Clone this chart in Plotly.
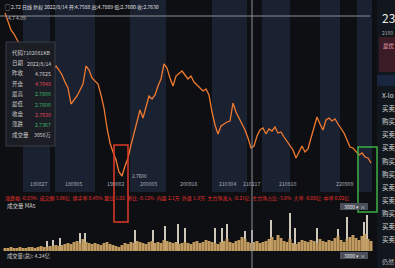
import plotly.graph_objects as go

W, H = 395, 268
FONT = "Noto Sans CJK SC"

# ---------------- data ----------------
price = [18.7, 17.8, 17.0, 16.6, 16.0, 15.5, 15.0, 14.4, 14.0, 13.4, 13.0, 12.6, 12.3, 12.1, 12.4,
         12.8, 13.0, 13.4, 13.0, 12.5, 11.8, 11.2, 9.6, 10.0, 10.4, 11.0, 11.6, 13.4, 13.0, 12.2,
         11.9, 11.6, 10.5, 9.2, 7.2, 5.7, 4.8, 4.0, 2.8, 2.4, 3.4, 4.2, 5.5, 6.7, 7.8,
         9.0, 8.2, 9.2, 10.4, 10.1, 10.5, 11.4, 12.1, 13.6, 13.2, 12.2, 11.4, 12.4, 12.7, 12.9,
         12.5, 12.1, 12.4, 11.8, 11.5, 11.2, 10.9, 11.1, 10.5, 8.8, 7.5, 6.6, 7.4, 7.6, 7.8,
         7.9, 9.7, 8.8, 8.2, 7.6, 7.0, 6.2, 5.2, 5.4, 6.4, 7.0, 7.2, 6.6, 7.1, 6.9,
         7.3, 6.7, 6.8, 6.3, 5.9, 5.4, 5.0, 4.2, 4.8, 5.4, 4.8, 5.1, 6.2, 7.2, 8.3,
         7.6, 7.0, 8.0, 8.2, 7.9, 8.1, 7.6, 7.2, 6.7, 6.0, 5.3, 5.2, 4.8, 4.5, 4.7,
         4.3, 4.2, 3.7]
idx = list(range(len(price)))

volume = [3, 3, 4, 3, 3, 4, 3, 3, 4, 4, 3, 4, 5, 4, 4, 5, 5, 6, 5,
          6, 7, 8, 7, 9, 10, 8, 12, 9, 8, 7, 8, 7, 6,
          8, 9, 7, 6, 5, 4, 6, 8,
          7, 9, 8, 10, 9, 8, 7, 9, 10, 8, 9, 8, 11, 10, 9, 8, 9, 7, 8, 9,
          8, 7, 9, 10, 8, 9, 11, 10, 9, 8, 7, 9, 10, 12, 9, 8, 10, 11, 14, 12, 9, 8, 9, 10, 8,
          9, 10, 12, 14, 11, 16, 13, 10, 9, 12, 8, 7, 9, 11, 10,
          9, 11, 10, 8, 12, 10, 9, 11, 10, 13, 15, 11, 9, 12, 14, 16, 13, 11, 15, 17, 12, 10]

spike_idx = [14, 16, 18.3, 25, 26.7, 43.3, 49.3, 53.3, 57.7, 60, 70, 72.3, 74, 80, 82.3,
             88.7, 95, 96.7, 104, 111, 114, 119.7, 120.7]
spike_vol = [10, 11, 13, 18, 18, 21, 21, 25, 27, 23, 23, 23, 27, 20, 21,
             31, 38, 23, 23, 22, 34, 29, 36]

tick_pos = [11, 22.7, 36.7, 47.7, 61, 74.3, 82.3, 94.3, 113.3]
tick_text = ["180827", "180905", "190002", "200005", "200916", "210304", "210217", "210810", "220909"]

tip_labels = ["代码", "日期", "昨收", "开盘", "最高", "最低", "收盘", "涨跌", "成交量"]
tip_values = ["7102081KB", "2022/8/14", "4.7625", "4.7648", "2.7600", "2.7600", "2.7630", "2.7367", "3056万"]
tip_colors = ["#d0d0d0", "#d0d0d0", "#d0d0d0", "#e0455a", "#3fb36a", "#3fb36a", "#e0455a", "#3fb36a", "#d0d0d0"]

side_rows = ["X-lo", "买卖", "购买", "买卖", "买卖", "购买", "购买", "买卖", "买卖", "购买", "买卖", "买卖"]

# ---------------- helpers (layout, pixels -> paper) ----------------
def px(x):
    return x / W

def py(y):
    return 1 - y / H

fig = go.Figure()

fig.add_trace(go.Scatter(x=idx, y=price, mode="lines",
                         line=dict(color="#f07a30", width=1.3),
                         xaxis="x", yaxis="y", hoverinfo="skip"))
fig.add_trace(go.Bar(x=spike_idx, y=spike_vol, width=0.35,
                     marker=dict(color="#cfc8ba", line=dict(width=0)),
                     xaxis="x", yaxis="y2", hoverinfo="skip"))
fig.add_trace(go.Bar(x=idx, y=volume, width=1.0,
                     marker=dict(color="#c09a5e", line=dict(width=0)),
                     xaxis="x", yaxis="y2", hoverinfo="skip"))

shapes = []
# background bands
for a, b in [(23, 50), (55, 95), (130, 166), (212, 247), (262, 290), (320, 340), (357, 372)]:
    shapes.append(dict(type="rect", xref="paper", yref="paper", x0=px(a), x1=px(b),
                       y0=py(192), y1=py(0), fillcolor="#1a2131", line=dict(width=0), layer="below"))
# right side panel
shapes.append(dict(type="rect", xref="paper", yref="paper", x0=px(377), x1=1, y0=0, y1=1,
                   fillcolor="#12161d", line=dict(width=0)))
shapes.append(dict(type="rect", xref="paper", yref="paper", x0=px(379), x1=1, y0=py(72), y1=py(37),
                   fillcolor="#3b1b26", line=dict(width=0)))
shapes.append(dict(type="rect", xref="paper", yref="paper", x0=px(377), x1=1, y0=py(86), y1=py(75),
                   fillcolor="#1a2540", line=dict(width=0)))
# crosshair
shapes.append(dict(type="line", xref="paper", yref="paper", x0=0, x1=px(370), y0=py(16), y1=py(16),
                   line=dict(color="#8a8f99", width=1)))
shapes.append(dict(type="line", xref="paper", yref="paper", x0=px(252), x1=px(252), y0=0, y1=1,
                   line=dict(color="#8a8f99", width=1)))
# tooltip
shapes.append(dict(type="rect", xref="paper", yref="paper", x0=px(6), x1=px(55), y0=py(146), y1=py(42),
                   fillcolor="rgba(28,31,38,0.95)", line=dict(color="#3a3e48", width=1)))
# highlight boxes
shapes.append(dict(type="rect", xref="paper", yref="paper", x0=px(114), x1=px(128), y0=py(222), y1=py(145),
                   fillcolor="rgba(0,0,0,0)", line=dict(color="#e03a2a", width=1.5)))
shapes.append(dict(type="rect", xref="paper", yref="paper", x0=px(358), x1=px(377), y0=py(212), y1=py(147),
                   fillcolor="rgba(0,0,0,0)", line=dict(color="#3cb043", width=1.5)))
# small tags
for yy in (203, 252):
    shapes.append(dict(type="rect", xref="paper", yref="paper", x0=px(340), x1=px(368), y0=py(yy + 7), y1=py(yy),
                       fillcolor="#4a4f5a", line=dict(width=0)))

ann = []

def text(x, y, s, size=6, color="#d8d8d8", anchor="left"):
    ann.append(dict(x=px(x), y=py(y), xref="paper", yref="paper", text=s,
                    showarrow=False, xanchor=anchor, yanchor="middle",
                    font=dict(family=FONT, size=size, color=color)))

text(3, 7, "▢ 2.72 日线 复权 2022/8/14 开:4.7588 高:4.7889 低:2.7600 收:2.7630", 5, "#e0e0e0")
text(6, 17, "4.7 4.09", 5, "#c0c0c0")

for k, (lab, val, col) in enumerate(zip(tip_labels, tip_values, tip_colors)):
    yy = 53 + k * 10.2
    text(10, yy, lab, 5.5, "#c8c8c8")
    text(53, yy, val, 5.2, col, anchor="right")

for p, t in zip(tick_pos, tick_text):
    ann.append(dict(x=p, y=py(183), xref="x", yref="paper", text=t, showarrow=False,
                    xanchor="center", yanchor="middle", font=dict(family=FONT, size=5.2, color="#a8adb8")))

text(130, 175, "2.7600", 4.8, "#c0c0c0")
text(3, 198, "涨跌幅 -0.83%  成交额 3.06亿  换手率 0.45% 量比 1.02  委比 -0.12%  内盘 2.1万  外盘 1.9万  主力净流入 -0.21亿  主力净占比 -3.6%  大单 -0.08亿  中单 0.02亿", 5, "#e8302a")
text(5, 206, "成交量 MA5", 5.5, "#d0d0d0")
text(5, 256, "成交量(总): 4.24亿", 5.3, "#d0d0d0")
text(342, 206.5, "3000 ▾ ×", 5, "#e0e0e0")
text(342, 255.5, "3000 ▾ ×", 5, "#e0e0e0")

# side panel text
text(380, 18, "23", 12, "#f0f0f0")
text(380, 32, "2100", 5, "#b0b0b0")
text(381, 46, "最优", 5.5, "#e8a0b0")
for k, s in enumerate(side_rows):
    text(380, 95 + k * 13.1, s, 6.5, "#d8d8d8")
text(380, 261, "仍然", 6, "#c0c0c0")

fig.update_layout(
    width=W, height=H,
    margin=dict(l=0, r=0, t=0, b=0),
    paper_bgcolor="#0e0f13",
    plot_bgcolor="rgba(0,0,0,0)",
    showlegend=False,
    barmode="overlay",
    xaxis=dict(domain=[0, px(376)], range=[-1.667, 123.667], visible=False, fixedrange=True),
    yaxis=dict(domain=[py(197), 1], range=[0.3, 20], visible=False),
    yaxis2=dict(domain=[py(251), py(211)], range=[0, 40], visible=False, anchor="x"),
    shapes=shapes,
    annotations=ann,
)

fig.write_html("out.html")
